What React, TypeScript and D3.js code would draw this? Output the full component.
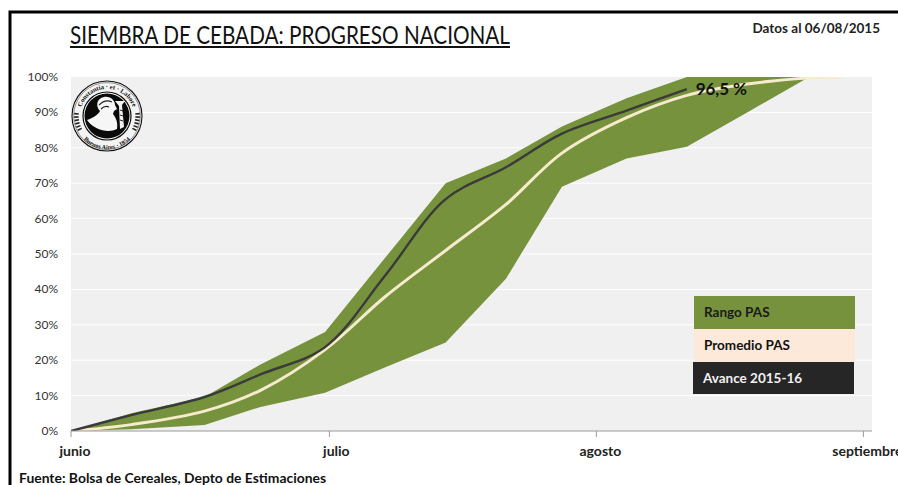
import * as d3 from 'd3';

const WIDTH = 898;
const HEIGHT = 485;
const FONT = 'Lato, "Open Sans", sans-serif';

// Survey dates (weekly, with half days where the vertices fall) and progress (%)
const bandDates = [
  '2015-06-01 00', '2015-06-08 00', '2015-06-16 12', '2015-06-23 00', '2015-06-30 12', '2015-07-07 12',
  '2015-07-14 12', '2015-07-21 12', '2015-07-28 00', '2015-08-04 12', '2015-08-11 12', '2015-08-18 12',
  '2015-08-25 12', '2015-08-29 12',
];
const rangoMax = [0, 5, 9.6, 18.8, 28, 49, 70, 77, 86, 94, 100, 100, 100, 100];
const rangoMin = [0, 0.5, 1.7, 6.8, 10.8, 18, 25, 43, 69, 77, 80.3, 90, 99.7, 100];
const promedio = [0, 1.8, 5.6, 11.5, 23, 38, 51, 64, 78.5, 88.5, 94.8, 98, 99.7, 100];
const avance = [0, 4.5, 9.6, 16, 23.7, 44, 65.5, 74.5, 84, 90.5, 96.6];

const yTicks = [0, 10, 20, 30, 40, 50, 60, 70, 80, 90, 100];
const monthNames = ['junio', 'julio', 'agosto', 'septiembre'];
const monthDates = ['2015-06-01 00', '2015-07-01 00', '2015-08-01 00', '2015-09-01 00'];
const monthLabelOffset = [4, 7, 4, 4];

const legendItems = ['Rango PAS', 'Promedio PAS', 'Avance 2015-16'];
const legendFills = ['#76923c', '#fde9d9', '#262626'];
const legendText = ['#1a1a1a', '#111111', '#f2f2f2'];

const parse = d3.utcParse('%Y-%m-%d %H');
const dates = bandDates.map((d) => parse(d) as Date);

const x = d3
  .scaleUtc()
  .domain([parse('2015-06-01 00') as Date, parse('2015-09-02 00') as Date])
  .range([71, 872]);
const y = d3.scaleLinear().domain([0, 100]).range([431, 77]);

type Pt = [Date, number];
const zip = (vals: number[]): Pt[] => vals.map((v, i) => [dates[i], v]);

const line = d3
  .line<Pt>()
  .x((d) => x(d[0]))
  .y((d) => y(d[1]))
  .curve(d3.curveCatmullRom.alpha(0.5));

const band = d3
  .area<number>()
  .x((_d, i) => x(dates[i]))
  .y0((_d, i) => y(rangoMin[i]))
  .y1((d) => y(d));

// Simplified seal of the Bolsa de Cereales
function Seal() {
  return (
    <g transform="translate(107,116)">
      <circle r={35} fill="#f4f4f4" stroke="#111" strokeWidth={1.1} />
      <circle r={33.4} fill="none" stroke="#333" strokeWidth={0.5} />
      <circle r={24} fill="none" stroke="#111" strokeWidth={1.2} />
      <circle r={22.5} fill="#0a0a0a" />
      {/* bust */}
      <path
        d="M-20,4 C-14,2 -9,-1 -7,-5 C-12,-10 -10,-18 -3,-19 C4,-20 8,-15 8,-11 L10,-7 L7,-5 L6,-2 C9,2 11,6 10,13 C2,17 -12,15 -20,4 Z"
        fill="#f6f6f6"
      />
      <path d="M-8,-11 C-4,-15 1,-16 5,-14 M-6,-7 C-3,-10 0,-10 2,-9" fill="none" stroke="#222" strokeWidth={1.1} />
      {/* stalk */}
      <path d="M8,-15 L18,-15 L15,-11 L17,11 L13,13 L12,-10 Z" fill="#f2f2f2" />
      <path d="M13,-6 L16,-5 M13,-1 L16,0 M13,4 L16,5" stroke="#111" strokeWidth={0.9} />
      {/* laurels at the sides */}
      <path d="M-30.5,-3 A30.7,30.7 0 0 0 -27,14" fill="none" stroke="#222" strokeWidth={4.5} strokeDasharray="1.6 1.6" />
      <path d="M30.5,-3 A30.7,30.7 0 0 1 27,14" fill="none" stroke="#222" strokeWidth={4.5} strokeDasharray="1.6 1.6" />
      <defs>
        <path id="sealTop" d="M-26,8 A27.2,27.2 0 1 1 26,8" />
        <path id="sealBottom" d="M-31,12 A33.2,33.2 0 0 0 31,12" />
      </defs>
      <text fontFamily='"Liberation Serif", serif' fontSize={6.6} fontWeight={700} fill="#111">
        <textPath href="#sealTop" startOffset="50%" textAnchor="middle">
          Constantia · et · Labore
        </textPath>
      </text>
      <text fontFamily='"Liberation Serif", serif' fontSize={6.2} fontWeight={700} fill="#111">
        <textPath href="#sealBottom" startOffset="50%" textAnchor="middle">
          Buenos Aires · 1854
        </textPath>
      </text>
    </g>
  );
}

export default function App() {
  const lastAvance = zip(avance)[avance.length - 1];
  return (
    <svg
      width={WIDTH}
      height={HEIGHT}
      viewBox={`0 0 ${WIDTH} ${HEIGHT}`}
      style={{ position: 'absolute', left: 0, top: 0, background: '#fff' }}
      fontFamily={FONT}
    >
      <defs>
        <clipPath id="plotArea">
          <rect x={71} y={77} width={801} height={354} />
        </clipPath>
      </defs>

      {/* page frame, open at the right and bottom */}
      <path d="M10,485 V12 H898" fill="none" stroke="#000" strokeWidth={3} />

      <text x={70} y={44} fontSize={25} fill="#111" textLength={440} lengthAdjust="spacingAndGlyphs">
        SIEMBRA DE CEBADA: PROGRESO NACIONAL
      </text>
      <rect x={70} y={46} width={440} height={2} fill="#111" />
      <text x={880} y={33} textAnchor="end" fontSize={13.5} fontWeight={700} fill="#222">
        Datos al 06/08/2015
      </text>

      <rect x={71} y={y(100)} width={801} height={y(0) - y(100)} fill="#f0f0f0" />
      {yTicks.map((t) => (
        <g key={t}>
          {t > 0 && t < 100 && <line x1={71} x2={872} y1={y(t)} y2={y(t)} stroke="#fff" strokeWidth={1} />}
          <text x={58} y={y(t) + 4} textAnchor="end" fontSize={12} fill="#333">
            {t}%
          </text>
        </g>
      ))}

      <g clipPath="url(#plotArea)">
        <path d={band(rangoMax) ?? ''} fill="#76923c" />
        <path d={line(zip(promedio)) ?? ''} fill="none" stroke="#f7ebcd" strokeWidth={3} />
        <path d={line(zip(avance)) ?? ''} fill="none" stroke="#3a3a3a" strokeWidth={2.4} />
      </g>
      <text x={x(lastAvance[0]) + 9} y={y(lastAvance[1]) + 6} fontSize={17} fill="#111" fontWeight={700} textLength={51}>
        96,5 %
      </text>

      <line x1={71} x2={872} y1={y(0)} y2={y(0)} stroke="#9a9a9a" strokeWidth={1} />
      {monthNames.map((m, i) => {
        const px = x(parse(monthDates[i]) as Date);
        return (
          <g key={m}>
            <line x1={px} x2={px} y1={y(0)} y2={y(0) + 6} stroke="#9a9a9a" />
            <text x={px + monthLabelOffset[i]} y={456} textAnchor="middle" fontSize={14} fontWeight={700} fill="#222">
              {m}
            </text>
          </g>
        );
      })}

      <Seal />

      {legendItems.map((item, i) => (
        <g key={item}>
          <rect x={694 - (i === 2 ? 1 : 0)} y={296 + i * 33} width={161} height={i === 2 ? 32 : 33} fill={legendFills[i]} />
          <text x={704 - (i === 2 ? 1 : 0)} y={317 + i * 33} fontSize={13.5} fontWeight={700} fill={legendText[i]}>
            {item}
          </text>
        </g>
      ))}

      <text x={19} y={483} fontSize={13.9} fontWeight={700} fill="#111">
        Fuente: Bolsa de Cereales, Depto de Estimaciones
      </text>
    </svg>
  );
}
